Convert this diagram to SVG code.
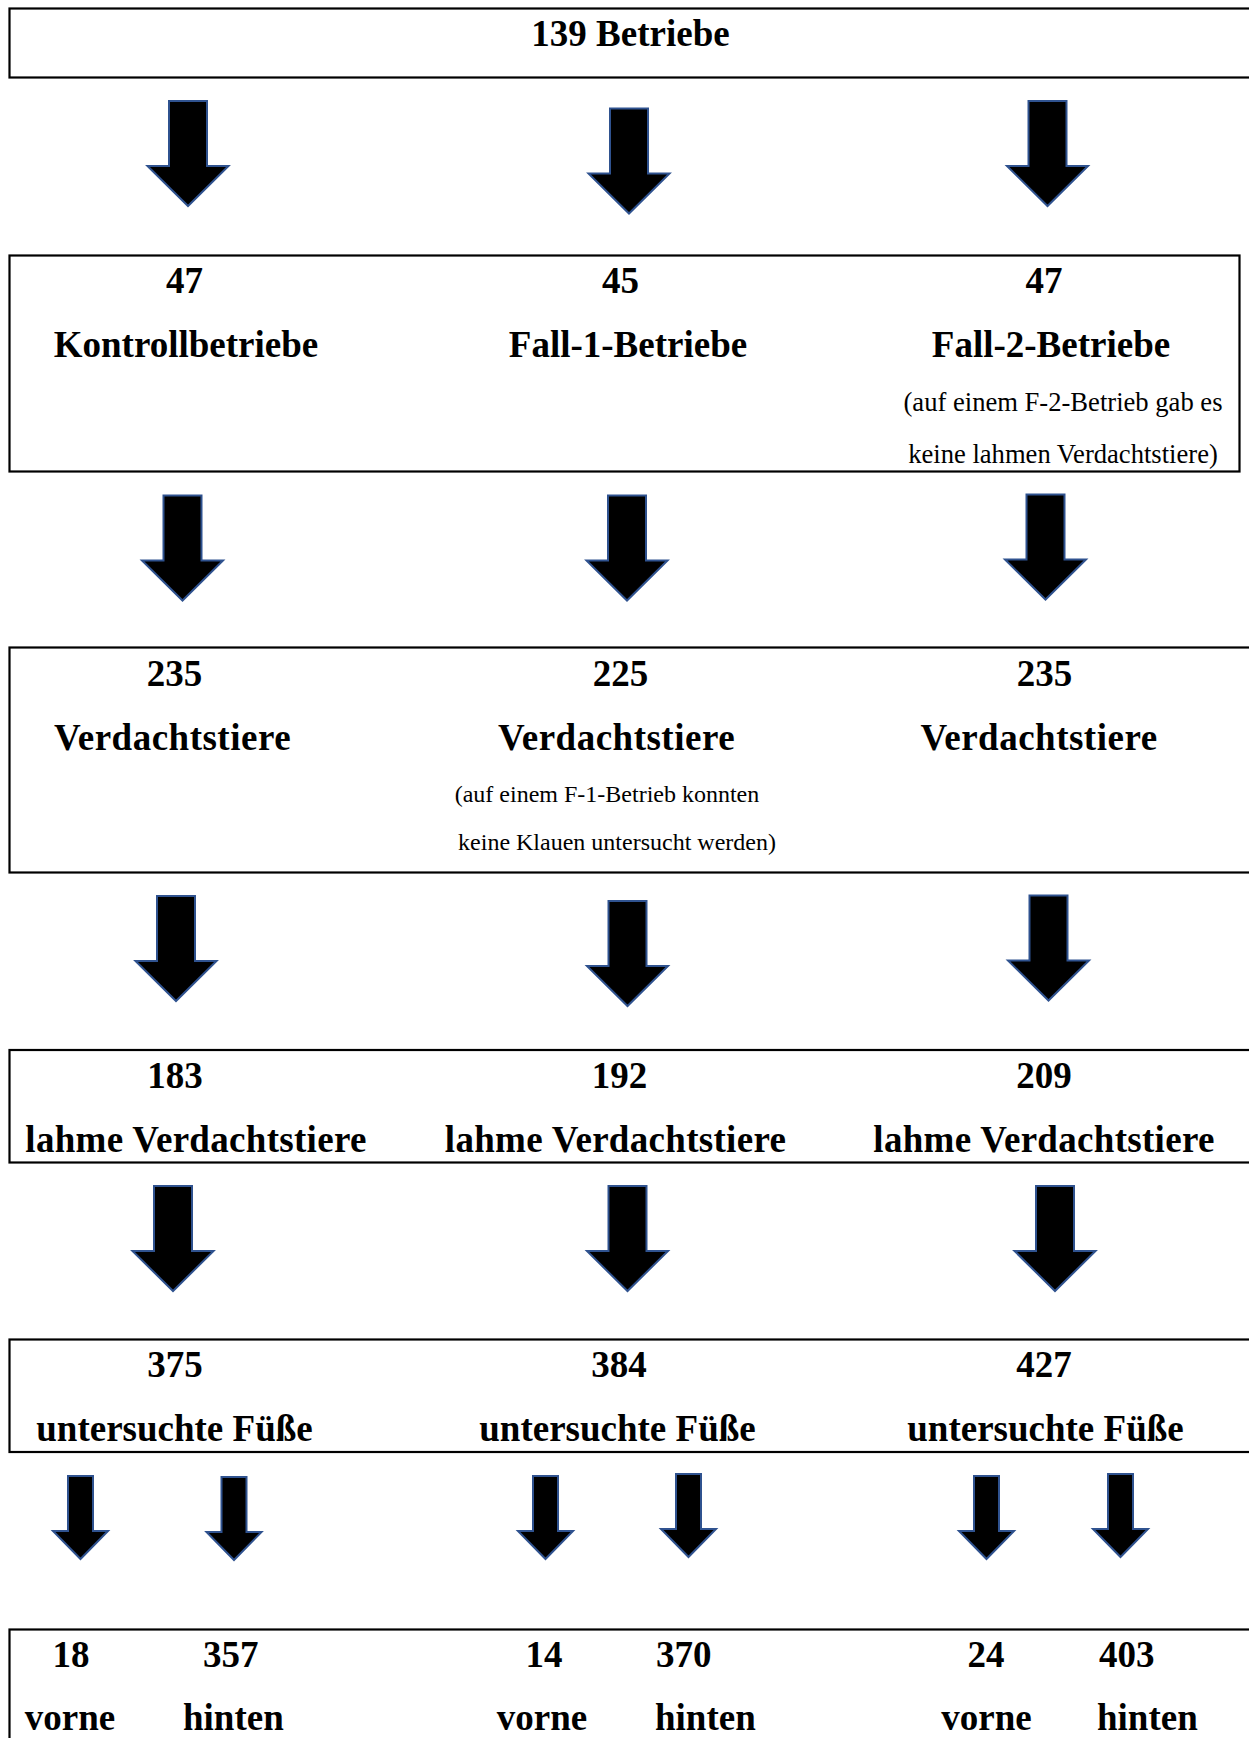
<svg xmlns="http://www.w3.org/2000/svg" width="1249" height="1738" viewBox="0 0 1249 1738">
<defs>
<style>
.box{fill:none;stroke:#000;stroke-width:2.2}
.b{font-family:"Liberation Serif","Times New Roman",serif;font-weight:bold;font-size:37px;fill:#000;text-anchor:middle}
.s{font-family:"Liberation Serif","Times New Roman",serif;font-size:26.6px;fill:#000;text-anchor:middle}
.s2{font-family:"Liberation Serif","Times New Roman",serif;font-size:24px;fill:#000;text-anchor:middle}
.st{text-anchor:start}
.arr{fill:#000;stroke:#2F528F;stroke-width:2;stroke-linejoin:miter}
</style>
<path id="big" d="M-19,0 H19 V65 H40.5 L0,105 L-40.5,65 H-19 Z"/>
<path id="small" d="M-12.5,0 H12.5 V55 H27.5 L0,83 L-27.5,55 H-12.5 Z"/>
</defs>
<rect width="1249" height="1738" fill="#fff"/>

<g id="n1">
<rect class="box" x="9.5" y="8.5" width="1260" height="69"/>
<text class="b" x="630.5" y="46">139 Betriebe</text>
</g>

<g id="n2">
<rect class="box" x="9.5" y="255.5" width="1230" height="216"/>
<text class="b" x="184.5" y="293">47</text>
<text class="b" x="620.5" y="293">45</text>
<text class="b" x="1044" y="293">47</text>
<text class="b" x="186" y="357">Kontrollbetriebe</text>
<text class="b" x="628" y="357">Fall-1-Betriebe</text>
<text class="b" x="1051" y="357">Fall-2-Betriebe</text>
<text class="s" x="1063" y="411">(auf einem F-2-Betrieb gab es</text>
<text class="s" x="1063" y="463">keine lahmen Verdachtstiere)</text>
</g>

<g id="n3">
<rect class="box" x="9.5" y="647.5" width="1260" height="225"/>
<text class="b" x="174.5" y="686">235</text>
<text class="b" x="620.5" y="686">225</text>
<text class="b" x="1044.5" y="686">235</text>
<text class="b" x="172.5" y="750" letter-spacing="0.5">Verdachtstiere</text>
<text class="b" x="616.5" y="750" letter-spacing="0.5">Verdachtstiere</text>
<text class="b" x="1039" y="750" letter-spacing="0.5">Verdachtstiere</text>
<text class="s2" x="607" y="802">(auf einem F-1-Betrieb konnten</text>
<text class="s2" x="617" y="850">keine Klauen untersucht werden)</text>
</g>

<g id="n4">
<rect class="box" x="9.5" y="1050" width="1260" height="112.5"/>
<text class="b" x="175" y="1088">183</text>
<text class="b" x="619.5" y="1088">192</text>
<text class="b" x="1044" y="1088">209</text>
<text class="b" x="196" y="1152" letter-spacing="0.3">lahme Verdachtstiere</text>
<text class="b" x="615.5" y="1152" letter-spacing="0.3">lahme Verdachtstiere</text>
<text class="b" x="1044" y="1152" letter-spacing="0.3">lahme Verdachtstiere</text>
</g>

<g id="n5">
<rect class="box" x="9.5" y="1339.5" width="1260" height="112.5"/>
<text class="b" x="175" y="1377">375</text>
<text class="b" x="619" y="1377">384</text>
<text class="b" x="1044" y="1377">427</text>
<text class="b" x="174.5" y="1441">untersuchte Füße</text>
<text class="b" x="617.5" y="1441">untersuchte Füße</text>
<text class="b" x="1045.5" y="1441">untersuchte Füße</text>
</g>

<g id="n6">
<rect class="box" x="9.5" y="1629.5" width="1260" height="200"/>
<text class="b" x="71" y="1667">18</text>
<text class="b st" x="203" y="1667">357</text>
<text class="b" x="544" y="1667">14</text>
<text class="b st" x="656" y="1667">370</text>
<text class="b" x="986" y="1667">24</text>
<text class="b st" x="1099" y="1667">403</text>
<text class="b" x="70" y="1730">vorne</text>
<text class="b st" x="183" y="1730">hinten</text>
<text class="b" x="542" y="1730">vorne</text>
<text class="b st" x="655" y="1730">hinten</text>
<text class="b" x="986.5" y="1730">vorne</text>
<text class="b st" x="1097" y="1730">hinten</text>
</g>

<g id="connectors">
<use href="#big" class="arr" x="188" y="101"/>
<use href="#big" class="arr" x="629" y="108.5"/>
<use href="#big" class="arr" x="1047.5" y="101"/>
<use href="#big" class="arr" x="182.5" y="495.5"/>
<use href="#big" class="arr" x="627" y="495.5"/>
<use href="#big" class="arr" x="1045.5" y="494.5"/>
<use href="#big" class="arr" x="176" y="896"/>
<use href="#big" class="arr" x="627.5" y="901"/>
<use href="#big" class="arr" x="1048.5" y="895.5"/>
<use href="#big" class="arr" x="173" y="1186"/>
<use href="#big" class="arr" x="627.5" y="1186"/>
<use href="#big" class="arr" x="1055" y="1186"/>
<use href="#small" class="arr" x="80.5" y="1476"/>
<use href="#small" class="arr" x="234" y="1477"/>
<use href="#small" class="arr" x="545.5" y="1476"/>
<use href="#small" class="arr" x="688.5" y="1474"/>
<use href="#small" class="arr" x="986.5" y="1476"/>
<use href="#small" class="arr" x="1120.5" y="1474"/>
</g>
</svg>
